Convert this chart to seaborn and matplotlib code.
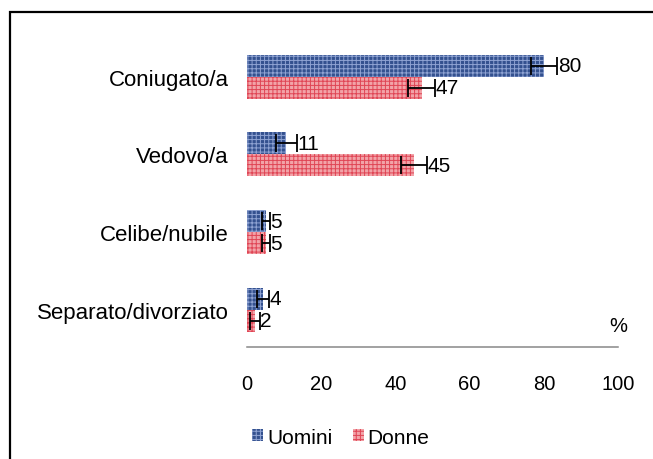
import matplotlib
matplotlib.use("Agg")
import matplotlib.pyplot as plt
from matplotlib.patches import Rectangle
import seaborn as sns
import pandas as pd

categories = ["Coniugato/a", "Vedovo/a", "Celibe/nubile", "Separato/divorziato"]
series = ["Uomini", "Donne"]
uomini = [80.0, 10.7, 5.2, 4.3]
donne = [47.1, 45.0, 5.2, 2.2]
err_uomini = [3.5, 2.8, 1.0, 1.6]
err_donne = [3.6, 3.6, 1.0, 1.3]
lab_uomini = ["80", "11", "5", "4"]
lab_donne = ["47", "45", "5", "2"]
xticks = [0, 20, 40, 60, 80, 100]

face = {"Uomini": "#34518F", "Donne": "#F2A3A8"}
hatchc = {"Uomini": "#8FA3D3", "Donne": "#E04555"}

df = pd.DataFrame({
    "cat": categories * 2,
    "val": uomini + donne,
    "sex": ["Uomini"] * 4 + ["Donne"] * 4,
})

sns.set_style("white")
plt.rcParams["font.family"] = ["Liberation Sans", "DejaVu Sans"]
plt.rcParams["hatch.linewidth"] = 0.7
for k in ["text.color", "axes.labelcolor", "xtick.labelcolor", "ytick.labelcolor"]:
    plt.rcParams[k] = "black"

fig = plt.figure(figsize=(6.53, 4.60), dpi=100)
ax = fig.add_axes([246.7 / 653, 1 - 348 / 460, (618.3 - 246.7) / 653, (348 - 37.3) / 460])

sns.barplot(data=df, y="cat", x="val", hue="sex", orient="h", order=categories,
            hue_order=series, palette=face, width=0.566, errorbar=None,
            legend=False, ax=ax, saturation=1)

errs = {"Uomini": err_uomini, "Donne": err_donne}
labs = {"Uomini": lab_uomini, "Donne": lab_donne}
vals = {"Uomini": uomini, "Donne": donne}
handles = []
for cont, s in zip(ax.containers, series):
    ys = []
    for bar in cont:
        bar.set_facecolor(face[s])
        bar.set_hatch("++++")
        bar.set_edgecolor(hatchc[s])
        bar.set_linewidth(0)
        if hasattr(bar, "set_hatchcolor"):
            bar.set_hatchcolor(hatchc[s])
        ys.append(bar.get_y() + bar.get_height() / 2)
    ax.errorbar(vals[s], ys, xerr=errs[s], fmt="none", ecolor="black",
                elinewidth=1.3, capsize=6.5, capthick=1.3, zorder=5)
    for v, e, y, t in zip(vals[s], errs[s], ys, labs[s]):
        ax.annotate(t, xy=(v + e, y), xytext=(0.5, 0), textcoords="offset points",
                    va="center", ha="left", fontsize=15, color="black")
    h = Rectangle((0, 0), 1, 1, facecolor=face[s], edgecolor=hatchc[s],
                  hatch="++++", linewidth=0)
    if hasattr(h, "set_hatchcolor"):
        h.set_hatchcolor(hatchc[s])
    handles.append(h)

ax.set_xlim(0, 100)
ax.set_ylim(3.48, -0.52)
ax.set_xticks(xticks)
ax.set_xticklabels([str(t) for t in xticks], fontsize=14.5)
ax.set_xlabel("")
ax.set_ylabel("")
ax.tick_params(axis="y", length=0, pad=13, labelsize=16, labelcolor="black")
ax.tick_params(axis="x", direction="out", length=4.5, width=1.1, color="#888888",
               pad=15, labelcolor="black")
for sp in ["top", "right", "left"]:
    ax.spines[sp].set_visible(False)
ax.spines["bottom"].set_color("#888888")
ax.spines["bottom"].set_linewidth(1.1)

ax.text(100, (348 - 326.7) / (348 - 37.3), "%", transform=ax.get_xaxis_transform(),
        ha="center", va="center", fontsize=14.5, color="black")

fig.legend(handles, series, loc="center", bbox_to_anchor=(341 / 653, 1 - 438 / 460),
           ncol=2, frameon=False, fontsize=15, handlelength=0.5, handleheight=0.5,
           handletextpad=0.2, columnspacing=1.0, borderpad=0, labelcolor="black")

fig.patches.append(Rectangle((10 / 653, -0.2), 2, 1 - 13 / 460 + 0.2,
                             transform=fig.transFigure, fill=False, lw=1.6,
                             edgecolor="black", clip_on=False))

fig.savefig("out.png", dpi=100)
